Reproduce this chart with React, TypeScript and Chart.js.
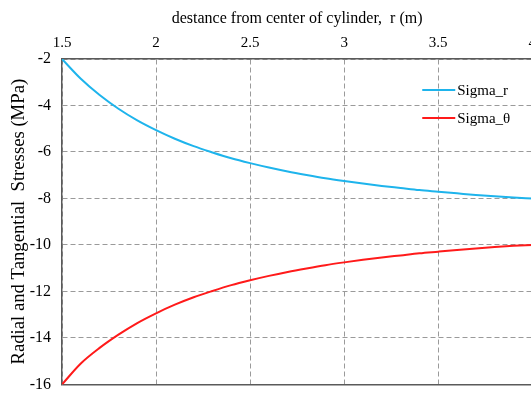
import React, { useEffect, useRef } from "react";
import { Chart, registerables } from "chart.js";

Chart.register(...registerables);

// Radius from the cylinder centre (m)
const radii = [
  1.5, 1.6, 1.7, 1.8, 1.9, 2.0, 2.1, 2.2, 2.3, 2.4, 2.5, 2.6, 2.7,
  2.8, 2.9, 3.0, 3.1, 3.2, 3.3, 3.4, 3.5, 3.6, 3.7, 3.8, 3.9, 4.0,
];

// Radial stress (MPa)
const sigmaR = [
  -2.0, -2.85, -3.55, -4.14, -4.64, -5.06, -5.43, -5.75, -6.02, -6.27,
  -6.48, -6.67, -6.84, -6.99, -7.13, -7.25, -7.36, -7.46, -7.55, -7.64,
  -7.71, -7.78, -7.85, -7.91, -7.96, -8.0,
];

// Tangential (hoop) stress (MPa)
const sigmaTheta = [
  -16.0, -15.1, -14.43, -13.86, -13.36, -12.94, -12.57, -12.25, -11.98,
  -11.73, -11.52, -11.33, -11.16, -11.01, -10.87, -10.75, -10.64, -10.54,
  -10.45, -10.36, -10.29, -10.22, -10.15, -10.09, -10.04, -10.0,
];

const xTicks = [1.5, 2, 2.5, 3, 3.5, 4];
const yTicks = [-16, -14, -12, -10, -8, -6, -4, -2];

const seriesNames = ["Sigma_r", "Sigma_θ"];
const seriesColors = ["#1EB4EC", "#FF1A1A"];

const FONT = "'Liberation Serif', 'Times New Roman', serif";
const GRID = "#9a9a9a";
const FRAME = "#5a5a5a";

// Legend drawn inside the plot, near the upper right corner
const innerLegend = {
  id: "innerLegend",
  afterDatasetsDraw(chart: any) {
    const { ctx, chartArea } = chart;
    const x0 = chartArea.right - 110;
    const rows = [chartArea.top + 31, chartArea.top + 59];
    ctx.save();
    ctx.font = `15px ${FONT}`;
    ctx.textBaseline = "middle";
    chart.data.datasets.forEach((ds: any, i: number) => {
      const y = rows[i];
      ctx.strokeStyle = ds.borderColor;
      ctx.lineWidth = 2;
      ctx.beginPath();
      ctx.moveTo(x0, y);
      ctx.lineTo(x0 + 33, y);
      ctx.stroke();
      ctx.fillStyle = "#000";
      ctx.fillText(ds.label, x0 + 35, y + 1);
    });
    ctx.restore();
  },
};

export default function App() {
  const canvasRef = useRef<HTMLCanvasElement | null>(null);

  useEffect(() => {
    document.body.style.margin = "0";
    const canvas = canvasRef.current;
    if (!canvas) return;

    const series = [sigmaR, sigmaTheta];
    const chart = new Chart(canvas, {
      type: "line",
      data: {
        datasets: series.map((vals, i) => ({
          label: seriesNames[i],
          data: vals.map((v, j) => ({ x: radii[j], y: v })),
          borderColor: seriesColors[i],
          backgroundColor: seriesColors[i],
          borderWidth: 2,
          pointRadius: 0,
          cubicInterpolationMode: "monotone" as const,
          fill: false,
        })),
      },
      options: {
        animation: false,
        responsive: false,
        maintainAspectRatio: false,
        layout: { padding: { left: 0, right: 0, top: 0, bottom: 0 } },
        plugins: {
          legend: { display: false },
          tooltip: { enabled: false },
        },
        scales: {
          x: {
            type: "linear",
            position: "top",
            min: 1.5,
            max: 4,
            afterBuildTicks: (scale: any) => {
              scale.ticks = xTicks.map((v) => ({ value: v }));
            },
            afterFit: (scale: any) => {
              scale.height = 59;
            },
            ticks: {
              color: "#000",
              font: { family: FONT, size: 15 },
              padding: 7,
              maxRotation: 0,
              callback: (v: any) => String(v),
            },
            grid: { color: GRID, lineWidth: 1, drawTicks: false },
            border: { display: true, color: FRAME, width: 1.5, dash: [5, 3] },
            title: {
              display: true,
              text: "destance from center of cylinder,  r (m)",
              color: "#000",
              font: { family: FONT, size: 16 },
              padding: { top: 9, bottom: 0 },
            },
          },
          y: {
            type: "linear",
            min: -16,
            max: -2,
            afterBuildTicks: (scale: any) => {
              scale.ticks = yTicks.map((v) => ({ value: v }));
            },
            afterFit: (scale: any) => {
              scale.width = 62;
            },
            ticks: {
              color: "#000",
              font: { family: FONT, size: 16 },
              padding: 11,
            },
            grid: {
              color: (c: any) => (c.tick && c.tick.value === -16 ? FRAME : GRID),
              lineWidth: (c: any) => (c.tick && c.tick.value === -16 ? 1.5 : 1),
              drawTicks: false,
            },
            border: {
              display: true,
              color: FRAME,
              width: 1.5,
              dash: (c: any) => (c.tick && c.tick.value === -16 ? [] : [5, 3]),
            },
            title: {
              display: true,
              text: "Radial and Tangential  Stresses (MPa)",
              color: "#000",
              font: { family: FONT, size: 18.7 },
              padding: { top: 8, bottom: 0 },
            },
          },
        },
      },
      plugins: [innerLegend],
    });

    return () => chart.destroy();
  }, []);

  return (
    <div style={{ width: 531, height: 397, overflow: "hidden", position: "relative", background: "#fff" }}>
      <canvas ref={canvasRef} width={543} height={405} style={{ display: "block", width: 543, height: 405 }} />
    </div>
  );
}
